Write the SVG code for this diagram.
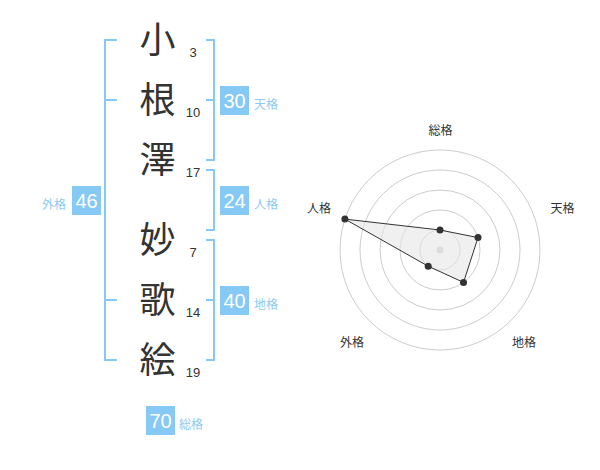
<svg xmlns="http://www.w3.org/2000/svg" width="600" height="470" viewBox="0 0 600 470">
<style>
.k{font-family:"Noto Sans CJK JP","Noto Sans",sans-serif;font-size:36px;fill:#333;text-anchor:middle}
.n{font-family:"Liberation Sans",Arial,sans-serif;font-size:13px;fill:#333;text-anchor:middle}
.br{fill:none;stroke:#86c9f5;stroke-width:2}
.bx{fill:#86c9f5}
.bn{font-family:"Liberation Sans",Arial,sans-serif;font-size:20px;fill:#fff;text-anchor:middle}
.bl{font-family:"Noto Sans CJK JP",sans-serif;font-size:12px;fill:#8ccaf2}
.ring{fill:none;stroke:#ccc;stroke-width:1}
.rl{font-family:"Noto Sans CJK JP",sans-serif;font-size:12px;fill:#333;text-anchor:middle}
.pt{fill:#333}
</style>
<rect width="600" height="470" fill="#fff"/>
<g id="name">
<g id="c1"><text class="k" x="157.5" y="53">小</text><text class="n" x="193" y="57">3</text></g>
<g id="c2"><text class="k" x="157.5" y="113">根</text><text class="n" x="193" y="117">10</text></g>
<g id="c3"><text class="k" x="157.5" y="173">澤</text><text class="n" x="193" y="177">17</text></g>
<g id="c4"><text class="k" x="157.5" y="253">妙</text><text class="n" x="193" y="257">7</text></g>
<g id="c5"><text class="k" x="157.5" y="313">歌</text><text class="n" x="193" y="317">14</text></g>
<g id="c6"><text class="k" x="157.5" y="373">絵</text><text class="n" x="193" y="377">19</text></g>
</g>
<g id="connectors">
<path class="br" d="M117,40 H105 V360 H117 M105,100 H117 M105,300 H117"/>
<path class="br" d="M206,40 H214 V160 H206 M214,100 H206"/>
<path class="br" d="M206,170 H214 V230 H206"/>
<path class="br" d="M206,240 H214 V360 H206 M214,300 H206"/>
</g>
<g id="tenkaku"><rect class="bx" x="220" y="86" width="29" height="29"/><text class="bn" x="234.5" y="108">30</text><text class="bl" x="254" y="109">天格</text></g>
<g id="jinkaku"><rect class="bx" x="220" y="186" width="29" height="29"/><text class="bn" x="234.5" y="208">24</text><text class="bl" x="254" y="209">人格</text></g>
<g id="chikaku"><rect class="bx" x="220" y="286" width="29" height="29"/><text class="bn" x="234.5" y="308">40</text><text class="bl" x="254" y="309">地格</text></g>
<g id="gaikaku"><rect class="bx" x="72" y="186" width="29" height="29"/><text class="bn" x="86.5" y="208">46</text><text class="bl" x="66" y="209" text-anchor="end">外格</text></g>
<g id="soukaku"><rect class="bx" x="146" y="406" width="29" height="29"/><text class="bn" x="160.5" y="428">70</text><text class="bl" x="179" y="429">総格</text></g>
<g id="radar">
<circle class="ring" cx="440" cy="250" r="100"/>
<circle class="ring" cx="440" cy="250" r="80"/>
<circle class="ring" cx="440" cy="250" r="60"/>
<circle class="ring" cx="440" cy="250" r="40"/>
<circle class="ring" cx="440" cy="250" r="20"/>
<circle cx="440" cy="250" r="3.5" fill="#ccc"/>
<polygon points="440,230 478,237.6 463.5,282.4 428.2,266.2 344.9,219.1" fill="#e6e6e6" fill-opacity="0.6" stroke="#333" stroke-width="1"/>
<circle class="pt" cx="440" cy="230" r="3.5"/>
<circle class="pt" cx="478" cy="237.6" r="3.5"/>
<circle class="pt" cx="463.5" cy="282.4" r="3.5"/>
<circle class="pt" cx="428.2" cy="266.2" r="3.5"/>
<circle class="pt" cx="344.9" cy="219.1" r="3.5"/>
<text class="rl" x="440.5" y="135">総格</text>
<text class="rl" x="562.5" y="213">天格</text>
<text class="rl" x="319" y="213">人格</text>
<text class="rl" x="352" y="347">外格</text>
<text class="rl" x="524" y="347">地格</text>
</g>
</svg>
